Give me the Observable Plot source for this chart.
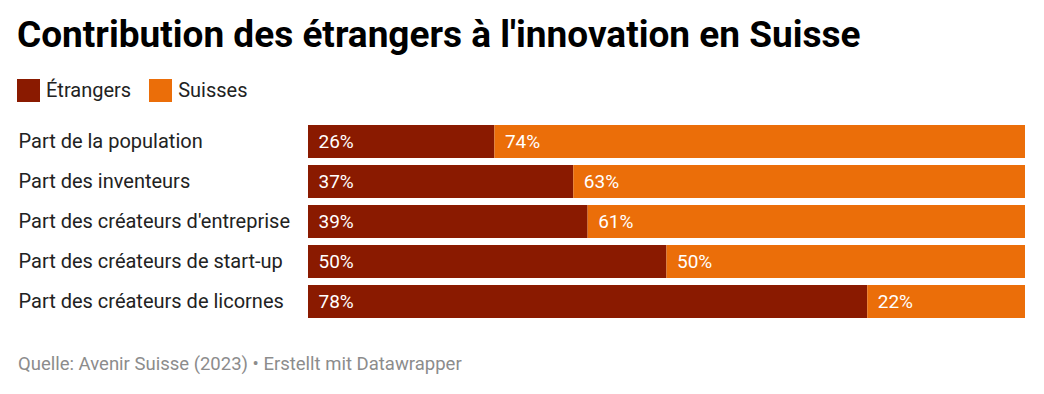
<!DOCTYPE html>
<html>
<head>
<meta charset="utf-8">
<script src="https://cdn.jsdelivr.net/npm/d3@7"></script>
<script src="https://cdn.jsdelivr.net/npm/@observablehq/plot@0.6"></script>
<style>
  body { margin: 0; background: #fff; font-family: Roboto, sans-serif; }
  #wrap { position: relative; width: 1044px; height: 394px; overflow: hidden; }
  #title { position: absolute; left: 17px; top: 13px; font-size: 37px; font-weight: 700; color: #000; white-space: nowrap; }
  #legend { position: absolute; left: 17px; top: 78px; font-size: 20px; color: #222; display: flex; align-items: center; }
  #legend .sw { width: 23px; height: 23px; display: inline-block; margin-right: 6px; }
  #legend .it { display: flex; align-items: center; margin-right: 18px; }
  #chart { position: absolute; left: 0; top: 0; }
  #foot { position: absolute; left: 18px; top: 353px; font-size: 18.5px; color: #8c8c8c; white-space: nowrap; }
</style>
</head>
<body>
<div id="wrap">
  <div id="title">Contribution des étrangers à l'innovation en Suisse</div>
  <div id="legend"></div>
  <div id="chart"></div>
  <div id="foot">Quelle: Avenir Suisse (2023) • Erstellt mit Datawrapper</div>
</div>
<script>
const categories = [
  "Part de la population",
  "Part des inventeurs",
  "Part des créateurs d'entreprise",
  "Part des créateurs de start-up",
  "Part des créateurs de licornes"
];
const seriesNames = ["Étrangers", "Suisses"];
const etrangers = [26, 37, 39, 50, 78];
const suisses = [74, 63, 61, 50, 22];
const colors = ["#8a1a00", "#eb6e09"];

const data = [];
categories.forEach((c, i) => {
  data.push({cat: c, series: seriesNames[0], value: etrangers[i]});
  data.push({cat: c, series: seriesNames[1], value: suisses[i]});
});

const legend = document.getElementById("legend");
seriesNames.forEach((s, i) => {
  const it = document.createElement("span");
  it.className = "it";
  it.innerHTML = `<span class="sw" style="background:${colors[i]}"></span>${s}`;
  legend.appendChild(it);
});

const chart = Plot.plot({
  width: 1044,
  height: 394,
  marginLeft: 308,
  marginRight: 19,
  marginTop: 118,
  marginBottom: 69,
  style: {fontFamily: "Roboto, sans-serif", background: "transparent"},
  x: {domain: [0, 100], axis: null},
  y: {domain: categories, axis: null, padding: 0.175},
  color: {domain: seriesNames, range: colors},
  marks: [
    Plot.barX(data, Plot.stackX({x: "value", y: "cat", fill: "series", z: "series", order: seriesNames})),
    Plot.text(data, Plot.stackX1({
      x: "value", y: "cat", z: "series", order: seriesNames,
      text: d => d.value + "%",
      textAnchor: "start", dx: 10, fill: "white", fontSize: 19
    })),
    Plot.text(categories, {
      y: d => d, text: d => d, frameAnchor: "left", textAnchor: "start",
      dx: -290, fontSize: 20, fill: "#222"
    })
  ]
});
document.getElementById("chart").appendChild(chart);
</script>
</body>
</html>
